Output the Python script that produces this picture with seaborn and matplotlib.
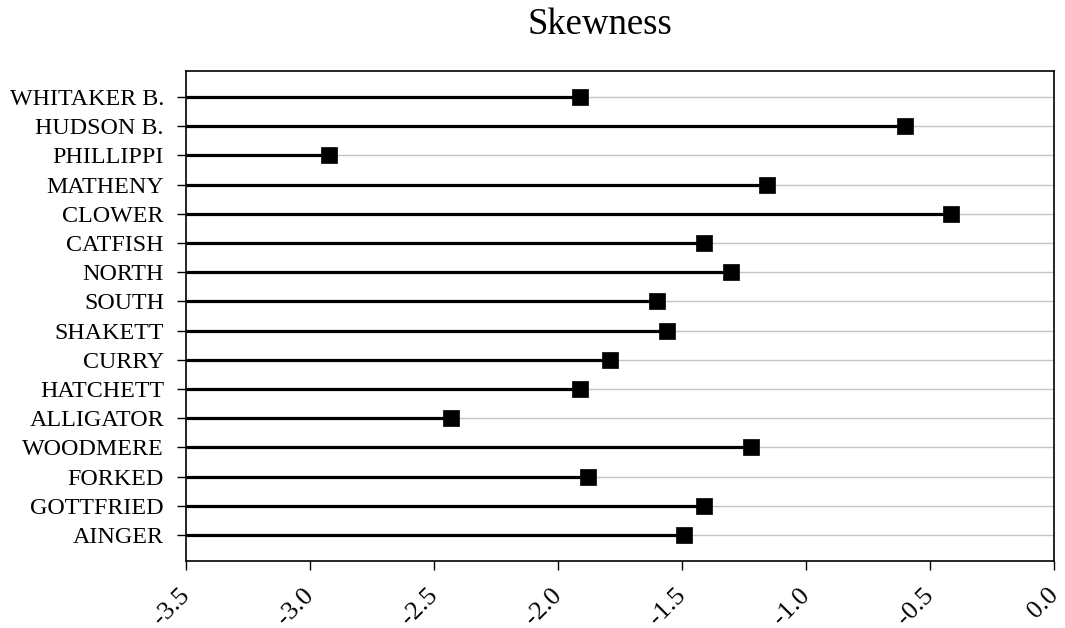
import pandas as pd
import numpy as np
import seaborn as sns
import matplotlib.pyplot as plt
import matplotlib.transforms as mtransforms

# donnees
lakes = ['WHITAKER B.', 'HUDSON B.', 'PHILLIPPI', 'MATHENY', 'CLOWER', 'CATFISH',
         'NORTH', 'SOUTH', 'SHAKETT', 'CURRY', 'HATCHETT', 'ALLIGATOR',
         'WOODMERE', 'FORKED', 'GOTTFRIED', 'AINGER']
skewness = [-1.91, -0.60, -2.92, -1.155, -0.415, -1.41,
            -1.30, -1.60, -1.56, -1.79, -1.91, -2.43,
            -1.22, -1.88, -1.41, -1.49]
xticks = [-3.5, -3.0, -2.5, -2.0, -1.5, -1.0, -0.5, 0.0]

df = pd.DataFrame({'Lake': lakes, 'Skewness': skewness})
df['pos'] = np.arange(len(lakes))

sns.set_style('white')
plt.rcParams['font.family'] = ['Liberation Serif', 'DejaVu Serif']
plt.rcParams['text.color'] = 'black'
plt.rcParams['xtick.color'] = 'black'
plt.rcParams['ytick.color'] = 'black'

fig = plt.figure(figsize=(10.65, 6.28), dpi=100)
ax = fig.add_axes([0.1742, 0.1067, 0.8155, 0.7803])

# grille horizontale grise
for p in df['pos']:
    ax.axhline(p, color='#c4c4c4', lw=1.0, zorder=0)

# tiges
ax.hlines(df['pos'], xmin=-3.5, xmax=df['Skewness'], color='black', lw=2.3, zorder=2)

sns.scatterplot(data=df, x='Skewness', y='pos', marker='s', s=140, color='black',
                edgecolor='black', linewidth=0.5, zorder=3, ax=ax, legend=False)

ax.set_xlim(-3.5, 0.0)
ax.set_ylim(len(lakes) - 1 + 0.89, -0.89)
ax.set_yticks(df['pos'])
ax.set_yticklabels(lakes, fontsize=17.3)
ax.set_xticks(xticks)
ax.set_xticklabels([f'{t:.1f}' for t in xticks], rotation=45, fontsize=19,
                   ha='right', va='top', rotation_mode='anchor')
ax.tick_params(axis='both', direction='out', length=6.5, width=1, color='black',
               left=True, bottom=True)
ax.tick_params(axis='y', pad=9)
ax.tick_params(axis='x', pad=8)

# petit decalage des etiquettes x
decal = mtransforms.ScaledTranslation(-7 / 100, -3 / 100, fig.dpi_scale_trans)
for lab in ax.get_xticklabels():
    lab.set_transform(lab.get_transform() + decal)

ax.set_xlabel('')
ax.set_ylabel('')
for s in ax.spines.values():
    s.set_color('black')
    s.set_linewidth(1.2)

fig.text(600 / 1065, 1 - 25 / 628, 'Skewness', fontsize=26.5, ha='center', va='center')

plt.savefig('out.png', dpi=100)
